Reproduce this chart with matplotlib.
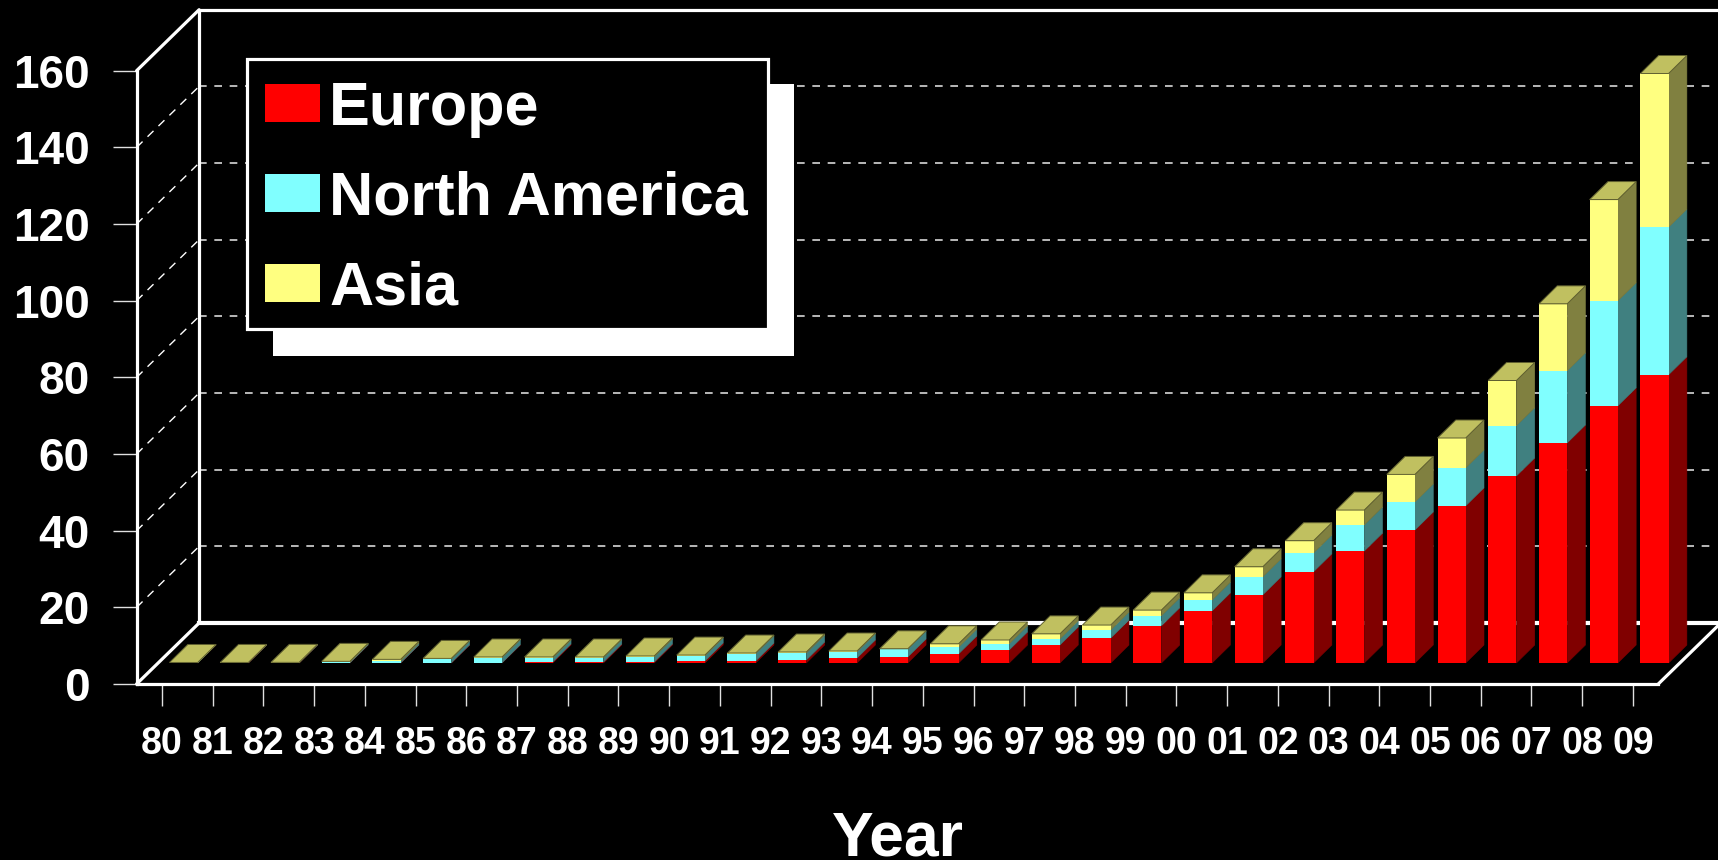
# Stacked 3D-look bars per year, Europe / North America / Asia, on black

import numpy as np
import matplotlib
matplotlib.use('Agg')
import matplotlib.pyplot as plt
from matplotlib.font_manager import FontProperties
from matplotlib.patches import Rectangle, Patch

# Data
years = ['80', '81', '82', '83', '84', '85', '86', '87', '88', '89',
         '90', '91', '92', '93', '94', '95', '96', '97', '98', '99',
         '00', '01', '02', '03', '04', '05', '06', '07', '08', '09']
europe = [0.02, 0.08, 0.02, 0.02, 0.02, 0.03, 0.05, 0.26, 0.26, 0.26,
          0.52, 0.52, 0.78, 1.3, 1.57, 2.35, 3.4, 4.7, 6.5, 9.7,
          13.6, 17.8, 23.8, 29.2, 34.7, 41.0, 48.8, 57.4, 67.1, 75.2]
north_america = [0.02, 0.02, 0.03, 0.24, 0.5, 1.02, 1.34, 1.04, 1.13, 1.31,
                 1.38, 1.91, 1.82, 1.65, 2.09, 1.75, 1.6, 1.6, 2.1, 2.6,
                 2.8, 4.7, 4.9, 6.8, 7.3, 9.9, 13.1, 18.8, 27.4, 38.5]
asia = [0.1, 0.05, 0.12, 0.17, 0.43, 0.15, 0.18, 0.27, 0.18, 0.26,
        0.17, 0.17, 0.27, 0.18, 0.04, 0.9, 1.0, 1.3, 1.3, 1.5,
        1.9, 2.6, 3.2, 3.9, 7.2, 7.8, 11.8, 17.5, 26.4, 40.1]
series = [('Europe', europe, '#ff0000', '#800000', None),
          ('North America', north_america, '#80ffff', '#408080', None),
          ('Asia', asia, '#ffff80', '#808040', '#c0c060')]
y_ticks = [0, 20, 40, 60, 80, 100, 120, 140, 160]

# pixel sizes of the fake 3D box
W, H = 1718, 860
PX_X = 50.72   # one category
PX_Y = 3.833   # one unit of value
WALL_X = 62.5 / PX_X
WALL_Y = 61.0 / PX_Y
BAR_W = 28.2 / PX_X
BAR_OFF = 7.5 / PX_X
BAR_DX = 18.3 / PX_X
BAR_DY = 18.0 / PX_Y
BAR_BASE = 21.0 / PX_Y
X_LEFT = -25.4 / PX_X
X_RIGHT = 29 + 25.4 / PX_X

fig = plt.figure(figsize=(W / 100, H / 100), dpi=100, facecolor='black')
ax = fig.add_axes([0, 0, 1, 1], facecolor='black')
ax.set_xlim(-162 / PX_X, (W - 162) / PX_X)
ax.set_ylim((684 - H) / PX_Y, 684 / PX_Y)

font = 'Liberation Sans'

# walls and floor
top_y = y_ticks[-1]
wall = dict(color='white', lw=2.3, zorder=3, solid_capstyle='round')
ax.plot([X_LEFT, X_LEFT + WALL_X], [top_y, top_y + WALL_Y], **wall)
ax.plot([X_LEFT, X_LEFT + WALL_X], [0, WALL_Y], **wall)
ax.plot([X_LEFT + WALL_X] * 2, [WALL_Y, top_y + WALL_Y], **wall)
ax.plot([X_LEFT + WALL_X, X_RIGHT + WALL_X], [top_y + WALL_Y] * 2, **wall)
ax.plot([X_LEFT + WALL_X, X_RIGHT + WALL_X], [WALL_Y] * 2, color='white', lw=3, zorder=1)
ax.plot([X_RIGHT, X_RIGHT + WALL_X], [0, WALL_Y], **wall)

# gridlines, on the back wall and running across the side wall
for v in y_ticks[1:-1]:
    ax.plot([X_LEFT + WALL_X, X_RIGHT + WALL_X - 0.13], [v + WALL_Y] * 2, color='#d8d8d8',
            lw=1.2, dashes=(4.6, 4.6), zorder=1)
    ax.plot([X_LEFT, X_LEFT + WALL_X], [v, v + WALL_Y], color='white',
            lw=1.0, dashes=(6, 5), zorder=1)

# bars
x = np.arange(len(years))
bottom = np.full(len(years), BAR_BASE)
for name, values, front, side, top in series:
    values = np.array(values)
    ax.bar(x + BAR_OFF + BAR_W / 2, values, BAR_W, bottom=bottom, color=front, zorder=5, linewidth=0)
    for xi, b0, b1 in zip(x + BAR_OFF + BAR_W, bottom, bottom + values):
        ax.fill([xi, xi + BAR_DX, xi + BAR_DX, xi], [b0, b0 + BAR_DY, b1 + BAR_DY, b1],
                facecolor=side, edgecolor=side, lw=0.4, zorder=4)
    bottom = bottom + values
    if top:
        for xi, b1 in zip(x + BAR_OFF, bottom):
            ax.fill([xi, xi + BAR_W, xi + BAR_W + BAR_DX, xi + BAR_DX],
                    [b1, b1, b1 + BAR_DY, b1 + BAR_DY],
                    facecolor=top, edgecolor='#606030', lw=0.7, zorder=6)

# real axes, moved onto the front edges of the box
for s in ['top', 'right']:
    ax.spines[s].set_visible(False)
ax.spines['left'].set_position(('data', X_LEFT))
ax.spines['left'].set_bounds(0, top_y)
ax.spines['bottom'].set_position(('data', 0))
ax.spines['bottom'].set_bounds(X_LEFT, X_RIGHT)
for s in ['left', 'bottom']:
    ax.spines[s].set_color('white')
    ax.spines[s].set_linewidth(2.3)
    ax.spines[s].set_zorder(3)
ax.set_yticks(y_ticks)
ax.set_xticks(x)
ax.set_xticklabels(years)
ax.tick_params(axis='y', length=17, width=1, color='#e0e0e0', pad=17, labelcolor='white')
ax.tick_params(axis='x', length=16, width=1, color='#e0e0e0', pad=14, labelcolor='white')
for t in ax.get_yticklabels():
    t.set_fontproperties(FontProperties(family=font, weight='bold', size=33))
for t in ax.get_xticklabels():
    t.set_fontproperties(FontProperties(family=font, weight='bold', size=27))

fig.text(898 / W, 1 - 855 / H, 'Year', color='white', ha='center', va='baseline',
         family=font, weight='bold', size=45)

# legend box with its hard white shadow
ax.add_patch(Rectangle((273 / W, 1 - 356 / H), 521 / W, 272 / H, transform=fig.transFigure,
                       facecolor='white', edgecolor='none', zorder=7))
ax.add_patch(Rectangle((247 / W, 1 - 329.3 / H), 521 / W, 270.6 / H, transform=fig.transFigure,
                       facecolor='black', edgecolor='white', lw=2.3, zorder=7.5))
handles = [Patch(facecolor=c, edgecolor='none', label=n) for n, _, c, _, _ in series]
leg = ax.legend(handles=handles, loc='upper left', bbox_to_anchor=(265 / W, 1 - 80.5 / H),
                bbox_transform=fig.transFigure, frameon=False, borderaxespad=0, borderpad=0,
                handlelength=0.9, handleheight=0.56, handletextpad=0.15, labelspacing=0.54,
                prop=dict(family=font, weight='bold', size=44), labelcolor='white')
leg.set_zorder(8)

fig.savefig('out.png', dpi=100, facecolor='black')
